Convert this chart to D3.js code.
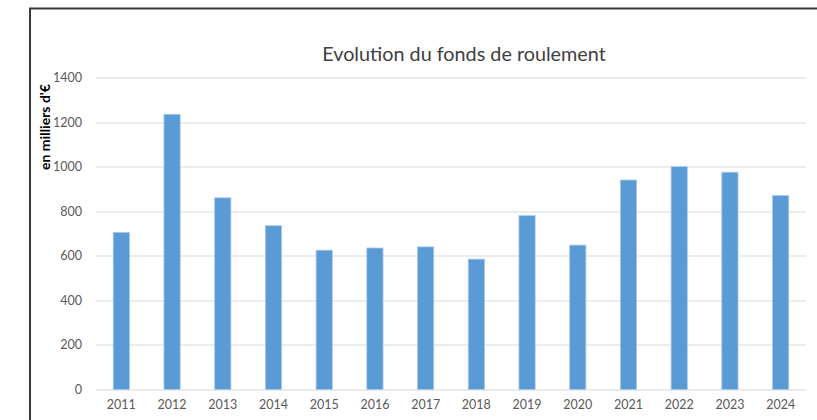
<!DOCTYPE html>
<html>
<head>
<meta charset="utf-8">
<script src="https://cdn.jsdelivr.net/npm/d3@7"></script>
<style>
  body { margin: 0; background: #fff; }
  text { font-family: Lato, "Open Sans", sans-serif; }
</style>
</head>
<body>
<svg id="chart" width="817" height="420"></svg>
<script>
var years = ["2011","2012","2013","2014","2015","2016","2017","2018","2019","2020","2021","2022","2023","2024"];
var values = [705, 1235, 860, 735, 625, 635, 640, 585, 780, 648, 940, 1000, 975, 870];
var yTicks = [0, 200, 400, 600, 800, 1000, 1200, 1400];

var svg = d3.select("#chart"),
    margin = {top: 77.5, right: 11, bottom: 30.5, left: 96},
    width = +svg.attr("width"),
    height = +svg.attr("height"),
    innerW = width - margin.left - margin.right,
    innerH = height - margin.top - margin.bottom;

// outer frame of the chart area (cropped on right/bottom)
svg.append("path")
    .attr("d", "M30,430 L30,8.5 L830,8.5")
    .attr("fill", "none")
    .attr("stroke", "#3a3a3a")
    .attr("stroke-width", 2);

var x = d3.scaleBand()
    .domain(years)
    .range([0, innerW])
    .paddingInner(0.68)
    .paddingOuter(0.34);

var y = d3.scaleLinear()
    .domain([0, 1400])
    .range([innerH, 0]);

var g = svg.append("g")
    .attr("transform", "translate(" + margin.left + "," + margin.top + ")");

// grid
g.append("g")
    .selectAll("line")
    .data(yTicks)
    .enter()
    .append("line")
    .attr("x1", 0)
    .attr("x2", innerW)
    .attr("y1", d => Math.round(y(d)) + 0.5)
    .attr("y2", d => Math.round(y(d)) + 0.5)
    .attr("stroke", "#d9d9d9")
    .attr("stroke-width", 1.2);

g.selectAll("rect.bar")
    .data(values)
    .enter()
    .append("rect")
    .attr("class", "bar")
    .attr("x", (d, i) => x(years[i]))
    .attr("y", d => y(d))
    .attr("width", x.bandwidth())
    .attr("height", d => innerH - y(d))
    .attr("fill", "#5b9bd5")
    .attr("stroke", "#a9c8ea")
    .attr("stroke-width", 0.8);

var yAxis = g.append("g")
    .call(d3.axisLeft(y).tickValues(yTicks).tickSize(0).tickPadding(14).tickFormat(d3.format("d")));
yAxis.select(".domain").remove();
yAxis.selectAll("text")
    .attr("fill", "#595959")
    .style("font-size", "12.5px");

var xAxis = g.append("g")
    .attr("transform", "translate(0," + innerH + ")")
    .call(d3.axisBottom(x).tickSize(0).tickPadding(11));
xAxis.select(".domain").remove();
xAxis.selectAll("text")
    .attr("fill", "#595959")
    .style("font-size", "12.5px");

svg.append("text")
    .attr("x", 464)
    .attr("y", 61)
    .attr("text-anchor", "middle")
    .attr("fill", "#404040")
    .style("font-size", "19.8px")
    .text("Evolution du fonds de roulement");

svg.append("text")
    .attr("transform", "translate(50,127) rotate(-90)")
    .attr("text-anchor", "middle")
    .attr("fill", "#000")
    .style("font-size", "14px")
    .style("font-weight", "bold")
    .text("en milliers d'€");
</script>
</body>
</html>
